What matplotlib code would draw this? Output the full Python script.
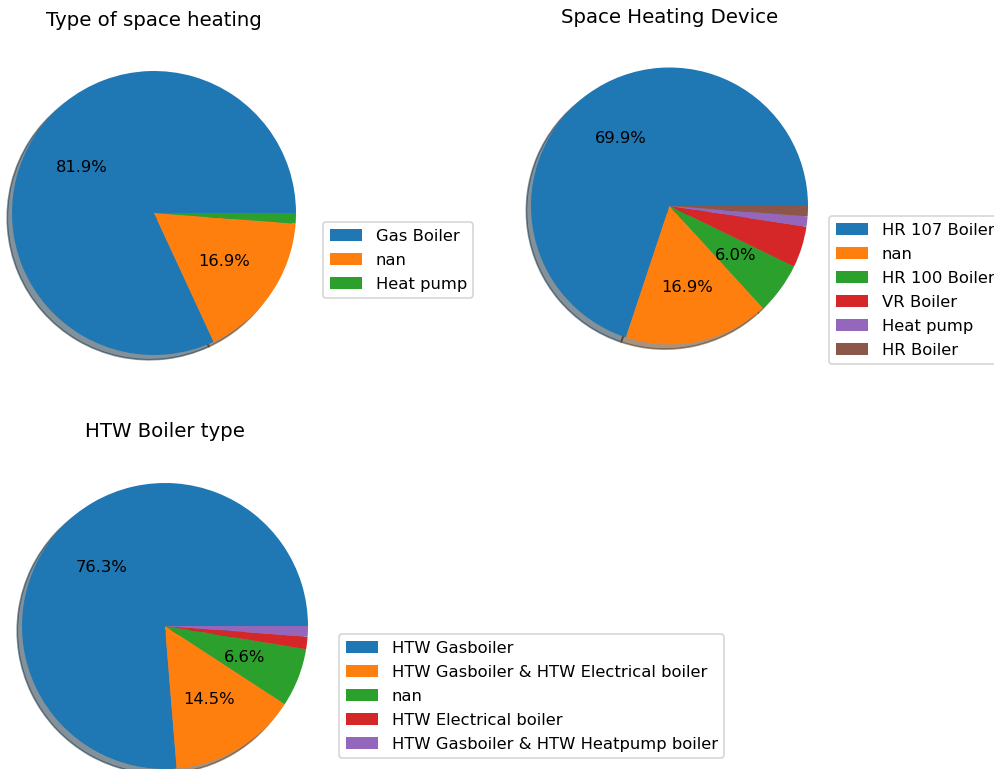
import matplotlib
matplotlib.use("Agg")
import matplotlib.pyplot as plt

# data
heating_labels = ["Gas Boiler", "nan", "Heat pump"]
heating_pct = [81.9, 16.9, 1.2]

device_labels = ["HR 107 Boiler", "nan", "HR 100 Boiler", "VR Boiler", "Heat pump", "HR Boiler"]
device_pct = [69.9, 16.9, 6.0, 4.8, 1.2, 1.2]

htw_labels = ["HTW Gasboiler", "HTW Gasboiler & HTW Electrical boiler", "nan",
              "HTW Electrical boiler", "HTW Gasboiler & HTW Heatpump boiler"]
htw_pct = [76.3, 14.5, 6.6, 1.4, 1.2]

plt.rcParams["font.size"] = 9.85

W, H, DPI = 995, 769, 120
fig = plt.figure(figsize=(W / DPI, H / DPI), dpi=DPI)


def pie_axes(cx, cy, r):
    # square axes whose pie (radius 1 in limits of +-1.25) lands at pixel centre cx, cy
    half = r * 1.25
    return fig.add_axes([(cx - half) / W, (H - cy - half) / H, 2 * half / W, 2 * half / H])


def autopct(p):
    return f"{p:.1f}%" if p > 5 else ""


specs = [
    (154, 213, 142, heating_pct, heating_labels, "Type of space heating", (323, 222)),
    (669.5, 206, 138.5, device_pct, device_labels, "Space Heating Device", (829, 216)),
    (165, 626, 143, htw_pct, htw_labels, "HTW Boiler type", (339, 634)),
]

for cx, cy, r, values, labels, title, (lx, ly) in specs:
    ax = pie_axes(cx, cy, r)
    wedges, _, _ = ax.pie(values, autopct=autopct, shadow=True)
    ax.set_title(title)
    ax.legend(wedges, labels, loc="upper left", labelspacing=0.55,
              bbox_to_anchor=(lx / W, 1 - ly / H), bbox_transform=fig.transFigure,
              borderaxespad=0)

fig.savefig("out.png", dpi=DPI)
